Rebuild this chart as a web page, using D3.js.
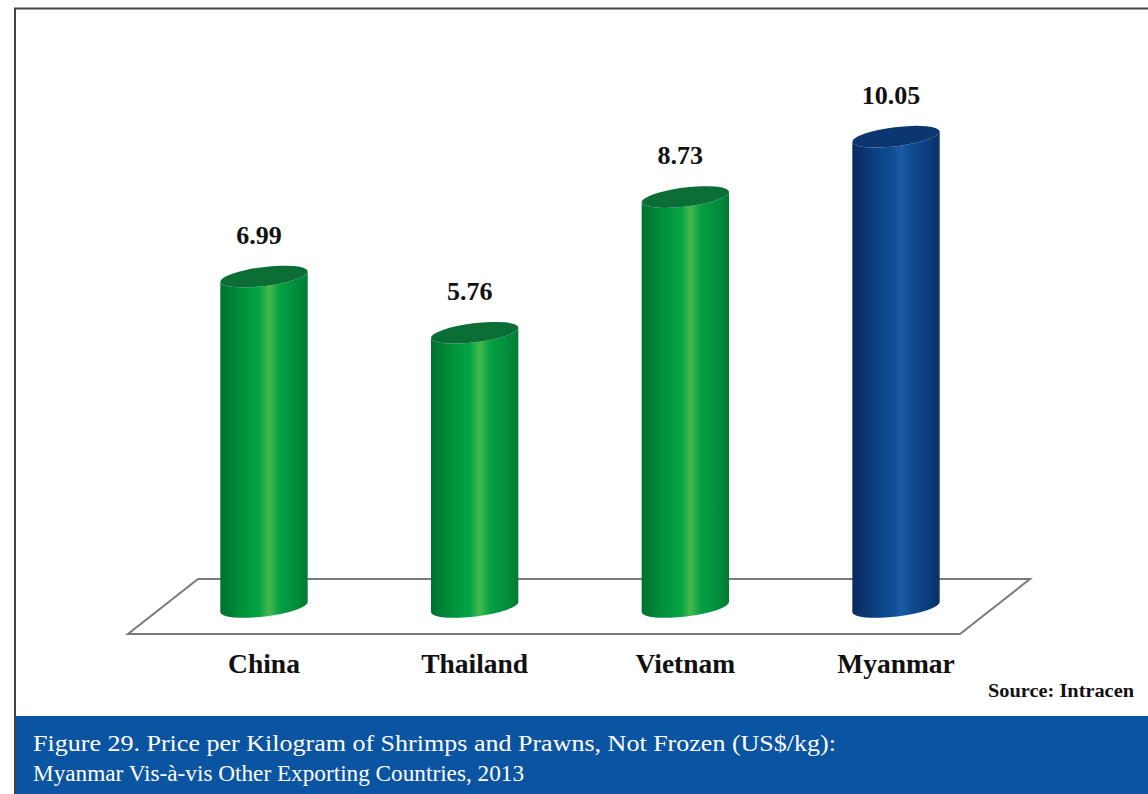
<!DOCTYPE html>
<html>
<head>
<meta charset="utf-8">
<script src="https://cdn.jsdelivr.net/npm/d3@7"></script>
<style>
  html, body { margin: 0; padding: 0; background: #fff; }
  svg { display: block; }
  text { font-family: "Liberation Serif", "Times New Roman", Times, serif; }
</style>
</head>
<body>
<script>
const categories = ["China", "Thailand", "Vietnam", "Myanmar"];
const values = [6.99, 5.76, 8.73, 10.05];
const valueLabels = ["6.99", "5.76", "8.73", "10.05"];
const highlight = ["Myanmar"];
const sourceText = "Source: Intracen";
const captionLines = [
  "Figure 29. Price per Kilogram of Shrimps and Prawns, Not Frozen (US$/kg):",
  "Myanmar Vis-à-vis Other Exporting Countries, 2013"
];

const W = 1148, H = 794;
const svg = d3.select("body").append("svg").attr("width", W).attr("height", H);
const defs = svg.append("defs");

function cylGrad(id, stops) {
  const g = defs.append("linearGradient").attr("id", id)
    .attr("x1", "0%").attr("x2", "100%").attr("y1", "0%").attr("y2", "0%");
  stops.forEach(s => g.append("stop").attr("offset", s[0]).attr("stop-color", s[1]));
}
cylGrad("gGreen", [["0%", "#00712f"], ["25%", "#00913c"], ["45%", "#05a444"], ["56%", "#45b84e"], ["68%", "#06a043"], ["90%", "#008a3a"], ["100%", "#007a33"]]);
cylGrad("gBlue", [["0%", "#0a2a5c"], ["25%", "#0c3f80"], ["45%", "#0e4c94"], ["56%", "#1b5aa6"], ["68%", "#0d4b92"], ["90%", "#0b3a78"], ["100%", "#082f63"]]);

// frame
svg.append("line").attr("x1", 15).attr("x2", 15).attr("y1", 8).attr("y2", H)
  .attr("stroke", "#444").attr("stroke-width", 2);
svg.append("line").attr("x1", 14).attr("x2", W).attr("y1", 8.5).attr("y2", 8.5)
  .attr("stroke", "#444").attr("stroke-width", 2);

// scales
const x = d3.scalePoint().domain(categories).range([264, 896]);
const y = d3.scaleLinear().domain([0, 12]).range([596, 596 - 12 * 45.7]);
const baseY = 607;

// floor
const floor = [[198, 579], [1030, 579], [960, 634], [128, 634]];
svg.append("polygon").attr("points", floor.map(p => p.join(",")).join(" "))
  .attr("fill", "none").attr("stroke", "#7a7a7a").attr("stroke-width", 2)
  .attr("stroke-linejoin", "miter");

// cylinders
const rx = 44, ry = 9.5, rot = -7;
const th = rot * Math.PI / 180;
const dx = rx * Math.cos(th), dy = rx * Math.sin(th);

const bars = svg.append("g").selectAll("g").data(categories).join("g");
bars.each(function(c, i) {
  const g = d3.select(this);
  const cx = x(c);
  const yt = y(values[i]);
  const isHi = highlight.includes(c);
  const body = `M${cx - dx},${yt - dy} L${cx - dx},${baseY - dy} ` +
    `A${rx},${ry} ${rot} 0 0 ${cx + dx},${baseY + dy} ` +
    `L${cx + dx},${yt + dy} ` +
    `A${rx},${ry} ${rot} 0 1 ${cx - dx},${yt - dy} Z`;
  g.append("path").attr("d", body).attr("fill", isHi ? "url(#gBlue)" : "url(#gGreen)");
  g.append("ellipse").attr("cx", cx).attr("cy", yt).attr("rx", rx).attr("ry", ry)
    .attr("transform", `rotate(${rot},${cx},${yt})`)
    .attr("fill", isHi ? "#0b3670" : "#0b6e35");
  g.append("text").attr("x", cx - 5).attr("y", yt - 33)
    .attr("text-anchor", "middle")
    .attr("font-weight", "bold").attr("font-size", 26).attr("fill", "#111")
    .text(valueLabels[i]);
});

// category labels
svg.append("g").selectAll("text").data(categories).join("text")
  .attr("x", d => x(d)).attr("y", 673)
  .attr("text-anchor", "middle")
  .attr("font-weight", "bold").attr("font-size", 27.5).attr("fill", "#111")
  .text(d => d);

// source
svg.append("text").attr("x", 1134).attr("y", 697).attr("text-anchor", "end")
  .attr("font-weight", "bold").attr("font-size", 18.5).attr("fill", "#111")
  .attr("textLength", 146).attr("lengthAdjust", "spacingAndGlyphs")
  .text(sourceText);

// caption band
svg.append("rect").attr("x", 16).attr("y", 716).attr("width", W - 16).attr("height", H - 716)
  .attr("fill", "#0b54a1");
const capWidths = [803, 491];
svg.append("g").selectAll("text").data(captionLines).join("text")
  .attr("x", 33).attr("y", (d, i) => 751 + i * 30)
  .attr("font-size", 22.5).attr("fill", "#fff")
  .attr("textLength", (d, i) => capWidths[i]).attr("lengthAdjust", "spacingAndGlyphs")
  .text(d => d);
</script>
</body>
</html>
